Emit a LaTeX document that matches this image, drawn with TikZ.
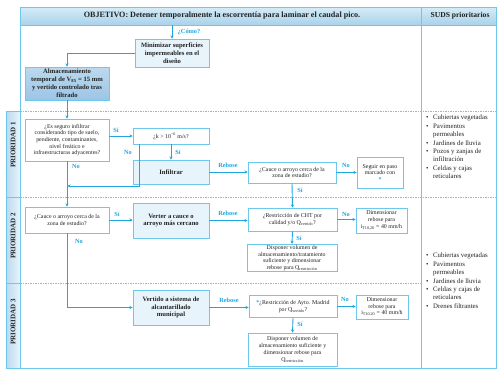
\documentclass[tikz,border=0pt]{standalone}
\usepackage{fontspec}
\setmainfont{Liberation Serif}
\usetikzlibrary{arrows.meta}
\definecolor{bord}{HTML}{6CC8EC}
\definecolor{arrc}{HTML}{1EA6E0}
\definecolor{lfill}{HTML}{E8F4FB}
\definecolor{hdrA}{HTML}{D6ECF7}
\definecolor{hdrB}{HTML}{A9D2EA}
\definecolor{almA}{HTML}{BCD9EF}
\definecolor{almB}{HTML}{9CC5E6}
\definecolor{txt}{HTML}{222222}
\newcommand\fsmall{\fontsize{5.9}{6.7}\selectfont}
\newcommand\fbold{\bfseries\fontsize{6.6}{7.9}\selectfont}
\newcommand\bul{\makebox[7pt][l]{•}}
\newcommand\ind{\hspace*{7pt}}
\newcommand\cstar{\textcolor{arrc}{\bfseries *}}
\begin{document}
\begin{tikzpicture}[x=1pt,y=-1pt,
  box/.style={draw=bord, line width=0.7pt, fill=white, align=center, inner sep=1pt, text=txt, font=\fsmall},
  boxb/.style={box, fill=lfill, font=\fbold},
  arr/.style={draw=arrc, line width=0.9pt, -{Stealth[length=3.2pt,width=3.2pt]}},
  lab/.style={text=arrc, font=\bfseries\fontsize{6.3}{7}\selectfont, inner sep=0pt},
  band/.style={draw=bord, line width=0.5pt, dash pattern=on 1.5pt off 1pt},
  suds/.style={align=left, inner sep=0pt, text=txt, font=\fontsize{6.8}{8.4}\selectfont},
  prio/.style={rotate=90, text=txt, font=\bfseries\fontsize{7}{8}\selectfont, inner sep=0pt}]
\useasboundingbox (0,0) rectangle (497,372);
\fill[white] (0,0) rectangle (497,372);
% frame
\shade[top color=hdrA, bottom color=hdrB] (20,7) rectangle (496,25);
\shade[left color=almA, right color=lfill] (6,111) rectangle (20,368);
\draw[bord, line width=0.6pt] (6,111) rectangle (20,368);
\draw[bord, line width=0.6pt] (6,197) -- (20,197) (6,283) -- (20,283);
\draw[bord, line width=0.8pt] (20,7) rectangle (496,368);
\draw[bord, line width=0.6pt] (421,7) -- (421,368) (20,25) -- (496,25);
\draw[band] (20,111) -- (496,111) (20,197) -- (496,197) (20,283) -- (421,283);
\node[text=txt, font=\bfseries\fontsize{8.1}{9}\selectfont] (h1) at (222,16) {OBJETIVO: Detener temporalmente la escorrentía para laminar el caudal pico.};
\node[text=txt, font=\bfseries\fontsize{7.6}{9}\selectfont] (h2) at (460,16) {SUDS prioritarios};
\node[prio] (p1) at (13,145) {PRIORIDAD 1};
\node[prio] (p2) at (13,236) {PRIORIDAD 2};
\node[prio] (p3) at (13,322) {PRIORIDAD 3};
% nodes
\coordinate (top) at (172,25);
\node[boxb, minimum width=74pt, minimum height=28pt] (min) at (172,53) {Minimizar superficies\\impermeables en el\\diseño};
\node[box, font=\fbold, top color=almA, bottom color=almB, minimum width=84pt, minimum height=33pt] (alm) at (67,83.5) {Almacenamiento\\temporal de V\textsubscript{85} = 15 mm\\y vertido controlado tras\\filtrado};
\node[box, minimum width=84pt, minimum height=42pt] (seg) at (67,140) {¿Es seguro infiltrar\\considerando tipo de suelo,\\pendiente, contaminantes,\\nivel freático e\\infraestructuras adyacentes?};
\node[box, minimum width=76pt, minimum height=16pt] (k) at (171,136) {¿k > 10\textsuperscript{−6} m/s?};
\node[boxb, minimum width=76pt, minimum height=24pt] (inf) at (171,172) {Infiltrar};
\node[box, minimum width=88pt, minimum height=21pt] (c1) at (292,172.5) {¿Cauce o arroyo cerca de la\\zona de estudio?};
\node[box, minimum width=46pt, minimum height=31pt] (seguir) at (380,173) {Seguir en paso\\marcado con\\\cstar};
\node[box, minimum width=84pt, minimum height=26pt] (c2) at (67,220) {¿Cauce o arroyo cerca de la\\zona de estudio?};
\node[boxb, minimum width=76pt, minimum height=35pt] (verter) at (171,220.5) {Verter a cauce o\\arroyo más cercano};
\node[box, minimum width=89pt, minimum height=23pt] (rcht) at (292.5,219.5) {¿Restricción de CHT por\\calidad y/o Q\textsubscript{vertido}?};
\node[box, minimum width=51pt, minimum height=25pt] (dim2) at (381.5,220.5) {Dimensionar\\rebose para\\i\textsubscript{T10,20} = 40 mm/h};
\node[box, minimum width=90pt, minimum height=26pt] (disp2) at (292,258) {Disponer volumen de\\almacenamiento/tratamiento\\suficiente y dimensionar\\rebose para Q\textsubscript{restricción}};
\node[boxb, minimum width=76pt, minimum height=35pt] (vertido) at (171,307.5) {Vertido a sistema de\\alcantarillado\\municipal};
\node[box, minimum width=88pt, minimum height=22pt] (ray) at (293,306.5) {\cstar¿Restricción de Ayto. Madrid\\por Q\textsubscript{vertido}?};
\node[box, minimum width=52pt, minimum height=24pt] (dim3) at (382,307) {Dimensionar\\rebose para\\i\textsubscript{T10,20} = 40 mm/h};
\node[box, minimum width=89pt, minimum height=33pt] (disp3) at (292.5,349.5) {Disponer volumen de\\almacenamiento suficiente y\\dimensionar rebose para\\Q\textsubscript{restricción}};
% SUDS lists
\node[suds, anchor=north west] (s1) at (426,115) {\bul Cubiertas vegetadas\\\bul Pavimentos\\\ind permeables\\\bul Jardines de lluvia\\\bul Pozos y zanjas de\\\ind infiltración\\\bul Celdas y cajas\\\ind reticulares};
\node[suds, anchor=north west] (s2) at (426,253) {\bul Cubiertas vegetadas\\\bul Pavimentos\\\ind permeables\\\bul Jardines de lluvia\\\bul Celdas y cajas de\\\ind reticulares\\\bul Drenes filtrantes};
% connectors
\draw[arr] (top) -- (min.north);
\node[lab] (como) at (189,32) {¿Cómo?};
\draw[arr] (min.west) -| (alm.north);
\draw[arr] (alm.south) -- (seg.north);
\draw[arr] (seg.east |- k.west) -- (k.west);
\node[lab] (si1) at (116,130) {Sí};
\draw[arr] (k.south) -- (inf.north);
\node[lab] (si2) at (178,152) {Sí};
\coordinate (j1) at (67.5,186);
\draw[arr] ([xshift=7pt]k.south west) |- (j1);
\node[lab] (no1) at (128,152) {No};
\draw[arr] (seg.south) -- (c2.north);
\node[lab] (no2) at (76,166) {No};
\draw[arr] (inf.east) -- (inf.east -| c1.west);
\node[lab] (reb1) at (228,165) {Rebose};
\draw[arr] (c1.east) -- (c1.east -| seguir.west);
\node[lab] (no3) at (346,165) {No};
\draw[arr] (c1.south) -- (rcht.north);
\node[lab] (si3) at (300,190) {Sí};
\draw[arr] (c2.east) -- (c2.east -| verter.west);
\node[lab] (si4) at (117,214) {Sí};
\draw[arr] (c2.south) |- (vertido.west);
\node[lab] (no4) at (79,241) {No};
\draw[arr] (verter.east) -- (verter.east -| rcht.west);
\node[lab] (reb2) at (228,213) {Rebose};
\draw[arr] (rcht.east) -- (rcht.east -| dim2.west);
\node[lab] (no5) at (346,214) {No};
\draw[arr] (rcht.south) -- (disp2.north);
\node[lab] (si5) at (299,238) {Sí};
\draw[arr] (vertido.east) -- (vertido.east -| ray.west);
\node[lab] (reb3) at (229,300) {Rebose};
\draw[arr] (ray.east) -- (ray.east -| dim3.west);
\node[lab] (no6) at (345,299) {No};
\draw[arr] (ray.south) -- (disp3.north);
\node[lab] (si6) at (300,324) {Sí};
\end{tikzpicture}
\end{document}
